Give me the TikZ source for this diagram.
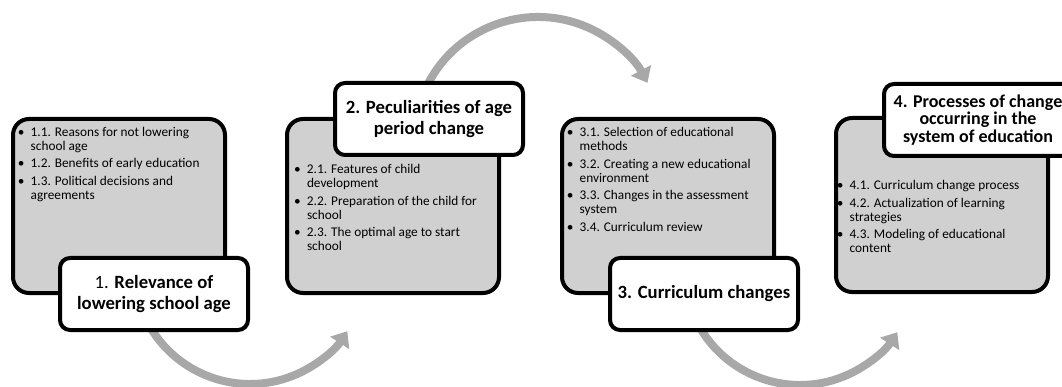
\documentclass[tikz,border=0pt]{standalone}
\usepackage{fontspec}
\setmainfont{Carlito}
\usetikzlibrary{arrows.meta,calc}
\definecolor{panelgray}{HTML}{D0D0D0}
\definecolor{arcgray}{HTML}{A8A8A8}
\tikzset{
  panel/.style={draw=black,line width=4pt,rounded corners=16pt,fill=panelgray,minimum width=212pt,minimum height=174pt},
  heading/.style={draw=black,line width=4pt,rounded corners=10pt,fill=white,minimum width=188pt,minimum height=72pt,align=center,inner sep=2pt,font=\fontsize{18.7}{21.7}\selectfont\bfseries},
  points/.style={anchor=north west,inner sep=0pt,align=left,font=\fontsize{13.3}{14}\selectfont},
  flow/.style={-{Triangle[width=22pt,length=14pt]},line width=8pt,draw=arcgray}
}
\newcommand{\dotmark}{\makebox[12.8pt][l]{\textbullet}}

\begin{document}
\begin{tikzpicture}[x=1pt,y=1pt]
  \useasboundingbox (0,0) rectangle (1062,-387);

  % curved arrows between the stages, drawn first so the boxes cover their tails
  \coordinate (arc1) at ($(250,-268)+(205:116)$);
  \coordinate (arc2) at ($(538,-141)+(155:124)$);
  \coordinate (arc3) at ($(800,-269)+(205:116)$);
  \draw[flow] (arc1) arc[start angle=205,end angle=327,radius=116];
  \draw[flow] (arc2) arc[start angle=155,end angle=28,radius=124];
  \draw[flow] (arc3) arc[start angle=205,end angle=327,radius=116];

  % content panels
  \node[panel] (box1) at (119,-206) {};
  \node[panel] (box2) at (393,-206) {};
  \node[panel] (box3) at (668,-206) {};
  \node[panel] (box4) at (942,-205) {};

  \node[points] (list1) at (17.7,-126.3) {\begin{tabular}{@{}l@{}l@{}}
    \dotmark & 1.1. Reasons for not lowering\\ & school age\\[3.5pt]
    \dotmark & 1.2. Benefits of early education\\[3.5pt]
    \dotmark & 1.3. Political decisions and\\ & agreements
  \end{tabular}};
  \node[points] (list2) at (294,-164) {\begin{tabular}{@{}l@{}l@{}}
    \dotmark & 2.1. Features of child\\ & development\\[3.5pt]
    \dotmark & 2.2. Preparation of the child for\\ & school\\[3.5pt]
    \dotmark & 2.3. The optimal age to start\\ & school
  \end{tabular}};
  \node[points] (list3) at (566.7,-126.6) {\begin{tabular}{@{}l@{}l@{}}
    \dotmark & 3.1. Selection of educational\\ & methods\\[3.5pt]
    \dotmark & 3.2. Creating a new educational\\ & environment\\[3.5pt]
    \dotmark & 3.3. Changes in the assessment\\ & system\\[3.5pt]
    \dotmark & 3.4. Curriculum review
  \end{tabular}};
  \node[points] (list4) at (836.7,-179.6) {\begin{tabular}{@{}l@{}l@{}}
    \dotmark & 4.1. Curriculum change process\\[3.5pt]
    \dotmark & 4.2. Actualization of learning\\ & strategies\\[3.5pt]
    \dotmark & 4.3. Modeling of educational\\ & content
  \end{tabular}};

  % stage headings
  \node[heading] (title1) at (154,-294) {{\mdseries 1.} Relevance of\\lowering school age};
  \node[heading] (title2) at (429,-119) {2. Peculiarities of age\\period change};
  \node[heading] (title3) at (704,-294) {3. Curriculum changes};
  \node[heading,font=\fontsize{18}{17.5}\selectfont\bfseries] (title4) at (978,-120) {4. Processes of change\\occurring in the\\system of education};
\end{tikzpicture}
\end{document}
